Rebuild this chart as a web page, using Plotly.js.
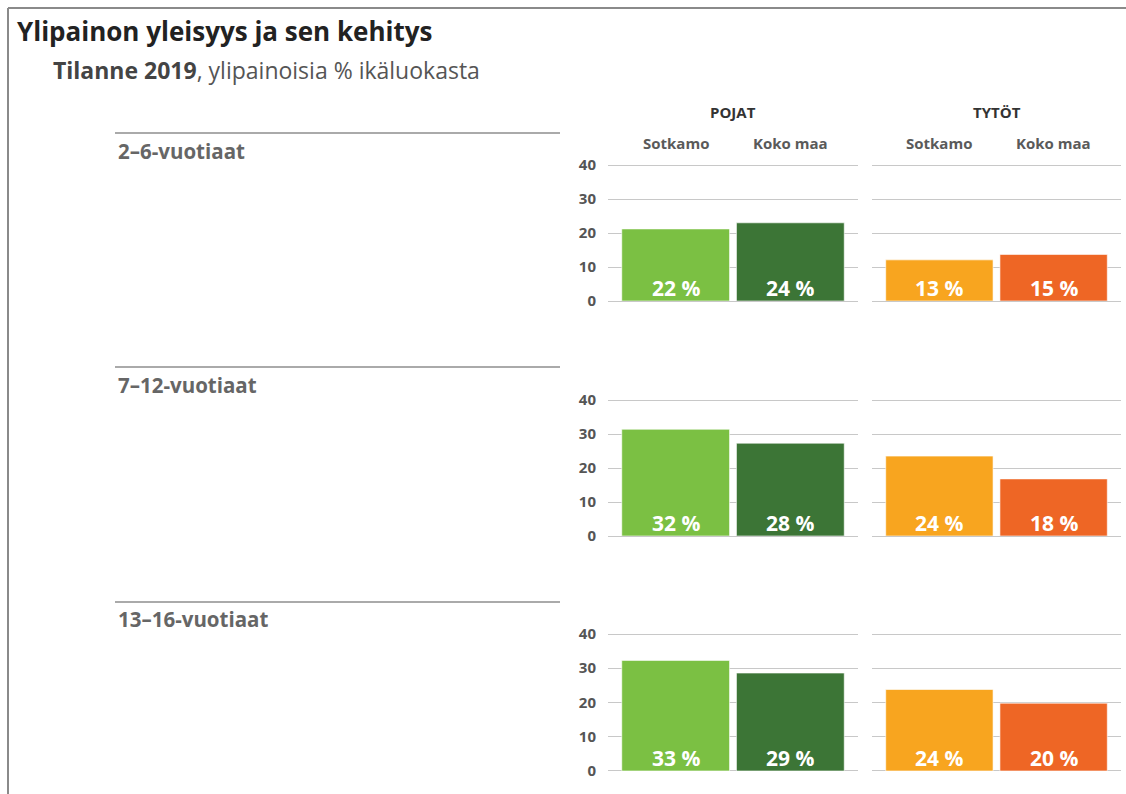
<!DOCTYPE html>
<html>
<head>
<meta charset="utf-8">
<script src="https://cdn.plot.ly/plotly-3.0.1.min.js"></script>
<style>html,body{margin:0;padding:0;background:#fff;}#chart{width:1126px;height:794px;}</style>
</head>
<body>
<div id="chart"></div>
<script>
// ---- data ----
const ageGroups = ['2–6-vuotiaat', '7–12-vuotiaat', '13–16-vuotiaat'];
const areas = ['Sotkamo', 'Koko maa'];
const genders = ['POJAT', 'TYTÖT'];
const boysSotkamo = [21.2, 31.4, 32.3];
const boysKokoMaa = [23.0, 27.3, 28.6];
const girlsSotkamo = [12.1, 23.5, 23.8];
const girlsKokoMaa = [13.7, 16.8, 19.8];
const boysSotkamoLabel = [22, 32, 33];
const boysKokoMaaLabel = [24, 28, 29];
const girlsSotkamoLabel = [13, 24, 24];
const girlsKokoMaaLabel = [15, 18, 20];
const yTicks = [0, 10, 20, 30, 40];

// ---- styling / layout helpers ----
const W = 1126, H = 794;
const px2x = p => p / W;
const px2y = p => 1 - p / H;
const FONT = 'Open Sans, DejaVu Sans, sans-serif';
const colors = {
  boys: ['#7bc043', '#3c7536'],
  girls: ['#f8a51f', '#ee6625']
};
const colDomains = [[608, 858], [872, 1121]];
const rowDomains = [[165, 301], [400, 536], [634, 771]];
const rowLabelY = [151, 385, 619];
const rowLineY = [133, 367, 602];
const YMAX = 40.6;

const series = {
  boys: [boysSotkamo, boysKokoMaa, boysSotkamoLabel, boysKokoMaaLabel],
  girls: [girlsSotkamo, girlsKokoMaa, girlsSotkamoLabel, girlsKokoMaaLabel]
};

const traces = [];
const layout = {
  width: W, height: H, autosize: false,
  margin: {l: 0, r: 0, t: 0, b: 0},
  paper_bgcolor: '#fff', plot_bgcolor: 'rgba(0,0,0,0)',
  showlegend: false,
  font: {family: FONT, color: '#555'},
  annotations: [], shapes: []
};

let idx = 0;
ageGroups.forEach((ag, r) => {
  ['boys', 'girls'].forEach((g, c) => {
    idx++;
    const xa = idx === 1 ? 'x' : 'x' + idx;
    const ya = idx === 1 ? 'y' : 'y' + idx;
    const s = series[g];
    traces.push({
      type: 'bar',
      x: [0, 1],
      y: [s[0][r], s[1][r]],
      width: 0.94,
      marker: {color: colors[g], line: {color: 'rgba(255,255,255,0.6)', width: 1}},
      hoverinfo: 'skip',
      xaxis: xa, yaxis: ya
    });
    // value labels at bar base
    [2, 3].forEach((si, k) => {
      layout.annotations.push({
        xref: xa, yref: ya, x: k, y: 0,
        text: '<b>' + s[si][r] + ' %</b>', showarrow: false,
        xanchor: 'center', yanchor: 'bottom', yshift: -3,
        font: {family: FONT, size: 21, color: '#ffffff'}
      });
    });
    const xKey = idx === 1 ? 'xaxis' : 'xaxis' + idx;
    const yKey = idx === 1 ? 'yaxis' : 'yaxis' + idx;
    const top = rowDomains[r][0], bot = rowDomains[r][1];
    const pxPerUnit = (bot - top) / 40;
    layout[xKey] = {
      domain: [px2x(colDomains[c][0]), px2x(colDomains[c][1])],
      range: [-0.59, 1.59],
      showticklabels: false, showgrid: false, zeroline: false, showline: false,
      ticks: '', fixedrange: true, anchor: ya
    };
    layout[yKey] = {
      domain: [px2y(bot), px2y(top - (YMAX - 40) * pxPerUnit)],
      range: [0, YMAX],
      tickvals: yTicks,
      showticklabels: c === 0,
      ticks: 'outside', ticklen: 8, tickcolor: 'rgba(0,0,0,0)',
      tickfont: {family: FONT, size: 15, color: '#555', weight: 'bold'},
      showgrid: true, gridcolor: '#c8c8c8', gridwidth: 1,
      zeroline: true, zerolinecolor: '#c8c8c8', zerolinewidth: 1,
      showline: false, fixedrange: true, anchor: xa
    };
    // column headings (top row only)
    if (r === 0) {
      layout.annotations.push({
        xref: xa + ' domain', yref: 'paper', x: 0.5, y: px2y(112),
        text: '<b>' + genders[c] + '</b>', showarrow: false,
        xanchor: 'center', yanchor: 'middle',
        font: {family: FONT, size: 15, color: '#333'}
      });
      areas.forEach((a, k) => {
        layout.annotations.push({
          xref: xa, yref: 'paper', x: k, y: px2y(143),
          text: '<b>' + a + '</b>', showarrow: false, xanchor: 'center', yanchor: 'middle',
          font: {family: FONT, size: 15, color: '#5a5a5a'}
        });
      });
    }
  });
  // row label + line
  layout.annotations.push({
    xref: 'paper', yref: 'paper', x: px2x(116), y: px2y(rowLabelY[r]),
    text: '<b>' + ag + '</b>', showarrow: false, xanchor: 'left', yanchor: 'middle',
    font: {family: FONT, size: 20.5, color: '#666'}
  });
  layout.shapes.push({
    type: 'line', xref: 'paper', yref: 'paper',
    x0: px2x(115), x1: px2x(560), y0: px2y(rowLineY[r]), y1: px2y(rowLineY[r]),
    line: {color: '#aaaaaa', width: 2}
  });
});

// title & subtitle
layout.annotations.push({
  xref: 'paper', yref: 'paper', x: px2x(15), y: px2y(31),
  text: '<b>Ylipainon yleisyys ja sen kehitys</b>', showarrow: false,
  xanchor: 'left', yanchor: 'middle',
  font: {family: FONT, size: 26, color: '#222'}
});
layout.annotations.push({
  xref: 'paper', yref: 'paper', x: px2x(51), y: px2y(70),
  text: '<b><span style="color:#444">Tilanne 2019</span></b>, ylipainoisia % ikäluokasta', showarrow: false,
  xanchor: 'left', yanchor: 'middle',
  font: {family: FONT, size: 23, color: '#555'}
});

// frame
layout.shapes.push({type: 'line', xref: 'paper', yref: 'paper',
  x0: px2x(8), x1: px2x(8), y0: px2y(8), y1: 0, line: {color: '#8a8a8a', width: 2}});
layout.shapes.push({type: 'line', xref: 'paper', yref: 'paper',
  x0: px2x(8), x1: 1, y0: px2y(8), y1: px2y(8), line: {color: '#8a8a8a', width: 2}});

Plotly.newPlot('chart', traces, layout, {displayModeBar: false, staticPlot: true});
</script>
</body>
</html>
